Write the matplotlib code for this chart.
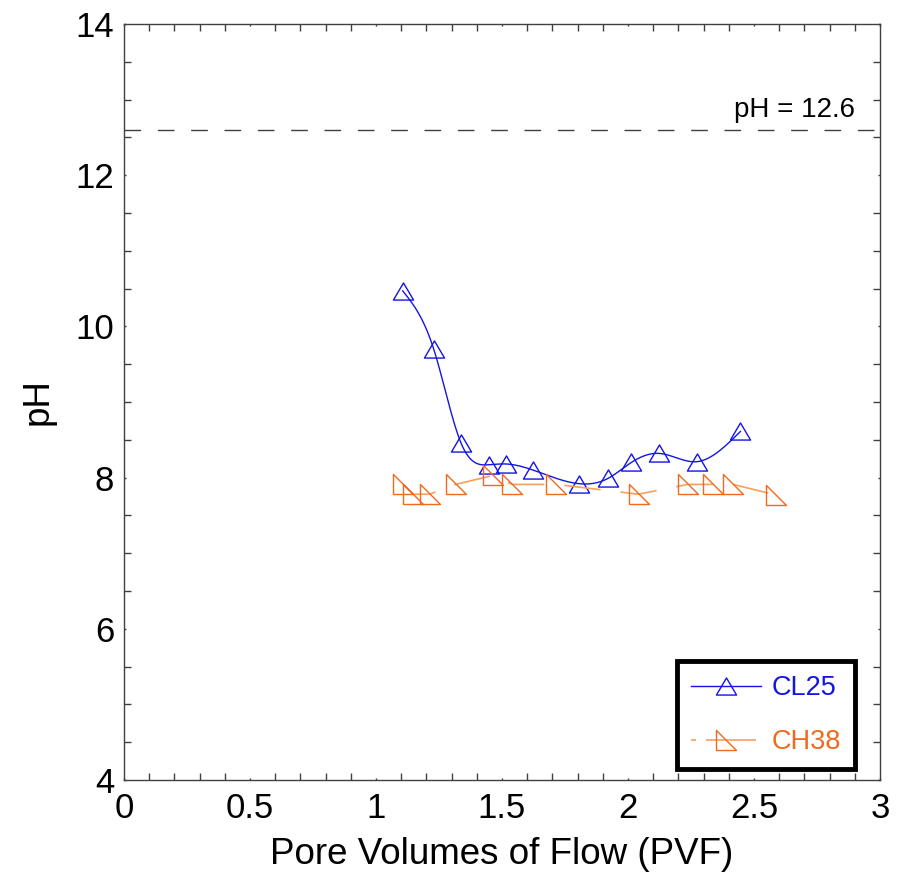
import numpy as np
import matplotlib
matplotlib.use("Agg")
import matplotlib.pyplot as plt
from matplotlib.path import Path
from matplotlib.ticker import MultipleLocator, FuncFormatter

plt.rcParams['font.family'] = ['Liberation Sans', 'DejaVu Sans']

# ---- data ----
cl25_x = [1.106, 1.229, 1.337, 1.448, 1.517, 1.623, 1.804, 1.921, 2.013, 2.124, 2.272, 2.446]
cl25_y = [10.47, 9.70, 8.46, 8.17, 8.18, 8.10, 7.92, 7.99, 8.20, 8.32, 8.21, 8.61]

ch38_x = [1.108, 1.148, 1.213, 1.316, 1.466, 1.540, 1.716, 2.042, 2.237, 2.337, 2.417, 2.587]
ch38_y = [7.91, 7.78, 7.78, 7.91, 8.03, 7.91, 7.91, 7.78, 7.91, 7.91, 7.91, 7.77]

ref_ph = 12.6
ref_label = "pH = 12.6"
x_ticks = [0, 0.5, 1, 1.5, 2, 2.5, 3]
y_ticks = [4, 6, 8, 10, 12, 14]


def natural_spline(x, y, n=400):
    x = np.asarray(x, float); y = np.asarray(y, float)
    m = len(x)
    h = np.diff(x)
    A = np.zeros((m, m)); b = np.zeros(m)
    A[0, 0] = 1; A[-1, -1] = 1
    for i in range(1, m - 1):
        A[i, i - 1] = h[i - 1]
        A[i, i] = 2 * (h[i - 1] + h[i])
        A[i, i + 1] = h[i]
        b[i] = 6 * ((y[i + 1] - y[i]) / h[i] - (y[i] - y[i - 1]) / h[i - 1])
    M = np.linalg.solve(A, b)
    xs = np.linspace(x[0], x[-1], n)
    idx = np.clip(np.searchsorted(x, xs) - 1, 0, m - 2)
    x0 = x[idx]; x1 = x[idx + 1]; hh = x1 - x0
    t0 = x1 - xs; t1 = xs - x0
    ys = (M[idx] * t0 ** 3 + M[idx + 1] * t1 ** 3) / (6 * hh) + \
         (y[idx] / hh - M[idx] * hh / 6) * t0 + (y[idx + 1] / hh - M[idx + 1] * hh / 6) * t1
    return xs, ys


tri_up = Path([(-1, -0.85), (1, -0.85), (0, 0.85), (-1, -0.85)],
              [Path.MOVETO, Path.LINETO, Path.LINETO, Path.CLOSEPOLY])
tri_right = Path([(-1, 1), (-1, -1), (1, -1), (-1, 1)],
                 [Path.MOVETO, Path.LINETO, Path.LINETO, Path.CLOSEPOLY])

fig = plt.figure(figsize=(9.04, 8.81), dpi=100)
ax = fig.add_axes([124 / 904, 1 - 780 / 881, 756 / 904, 756 / 881])

blue = '#1414E6'
orange_line = '#F4A060'
orange = '#F06A1E'

# reference line
ax.axhline(ref_ph, color='#404040', lw=1.0, dashes=(12, 12), dash_capstyle='butt')
ax.text(2.90, 12.77, ref_label, ha='right', va='baseline', fontsize=20, color='black')

# CL25
sx, sy = natural_spline(cl25_x, cl25_y)
ax.plot(sx, sy, color=blue, lw=1.0)
ax.plot(cl25_x, cl25_y, ls='none', marker=tri_up, markersize=14.5,
        markerfacecolor='none', markeredgecolor=blue, markeredgewidth=1.0)
h1, = ax.plot([], [], color=blue, lw=1.0, marker=tri_up, markersize=14.5,
              markerfacecolor='none', markeredgecolor=blue, markeredgewidth=1.0)

# CH38
ax.plot(ch38_x, ch38_y, color=orange_line, lw=1.2, dashes=(22, 12))
ax.plot(ch38_x, ch38_y, ls='none', marker=tri_right, markersize=14.5,
        markerfacecolor='none', markeredgecolor=orange, markeredgewidth=1.0)
h2, = ax.plot([], [], color=orange_line, lw=1.2, dashes=(3, 6, 30, 4), marker=tri_right, markersize=14.5,
              markerfacecolor='none', markeredgecolor=orange, markeredgewidth=1.0)

ax.set_xlim(0, 3)
ax.set_ylim(4, 14)
ax.set_xticks(x_ticks)
ax.set_yticks(y_ticks)
ax.xaxis.set_major_formatter(FuncFormatter(lambda v, p: f"{v:g}"))
ax.yaxis.set_major_formatter(FuncFormatter(lambda v, p: f"{v:g}"))
ax.xaxis.set_minor_locator(MultipleLocator(0.1))
ax.yaxis.set_minor_locator(MultipleLocator(0.5))
ax.tick_params(which='both', direction='in', top=True, right=True, color='#404040', width=1.0)
ax.tick_params(which='major', length=1.5, labelsize=25)
ax.tick_params(axis='x', which='major', pad=9)
ax.tick_params(axis='y', which='major', pad=7)
ax.tick_params(which='minor', length=5)
for s in ax.spines.values():
    s.set_color('#404040')
    s.set_linewidth(1.0)

ax.set_xlabel('Pore Volumes of Flow (PVF)', fontsize=26.5, labelpad=8)
ax.set_ylabel('pH', fontsize=26.5, labelpad=14)

leg = ax.legend([h1, h2], ['CL25', 'CH38'], loc='lower right',
                bbox_to_anchor=((855 - 124) / 756, (780 - 769) / 756),
                fontsize=19.5, frameon=True, fancybox=False, framealpha=1,
                handlelength=2.6, handletextpad=0.4,
                borderpad=0.5, labelspacing=1.05, borderaxespad=0.0)
leg.get_frame().set_edgecolor('black')
leg.get_frame().set_linewidth(3.5)
for t, c in zip(leg.get_texts(), [blue, orange]):
    t.set_color(c)

fig.savefig('out.png', dpi=100)
